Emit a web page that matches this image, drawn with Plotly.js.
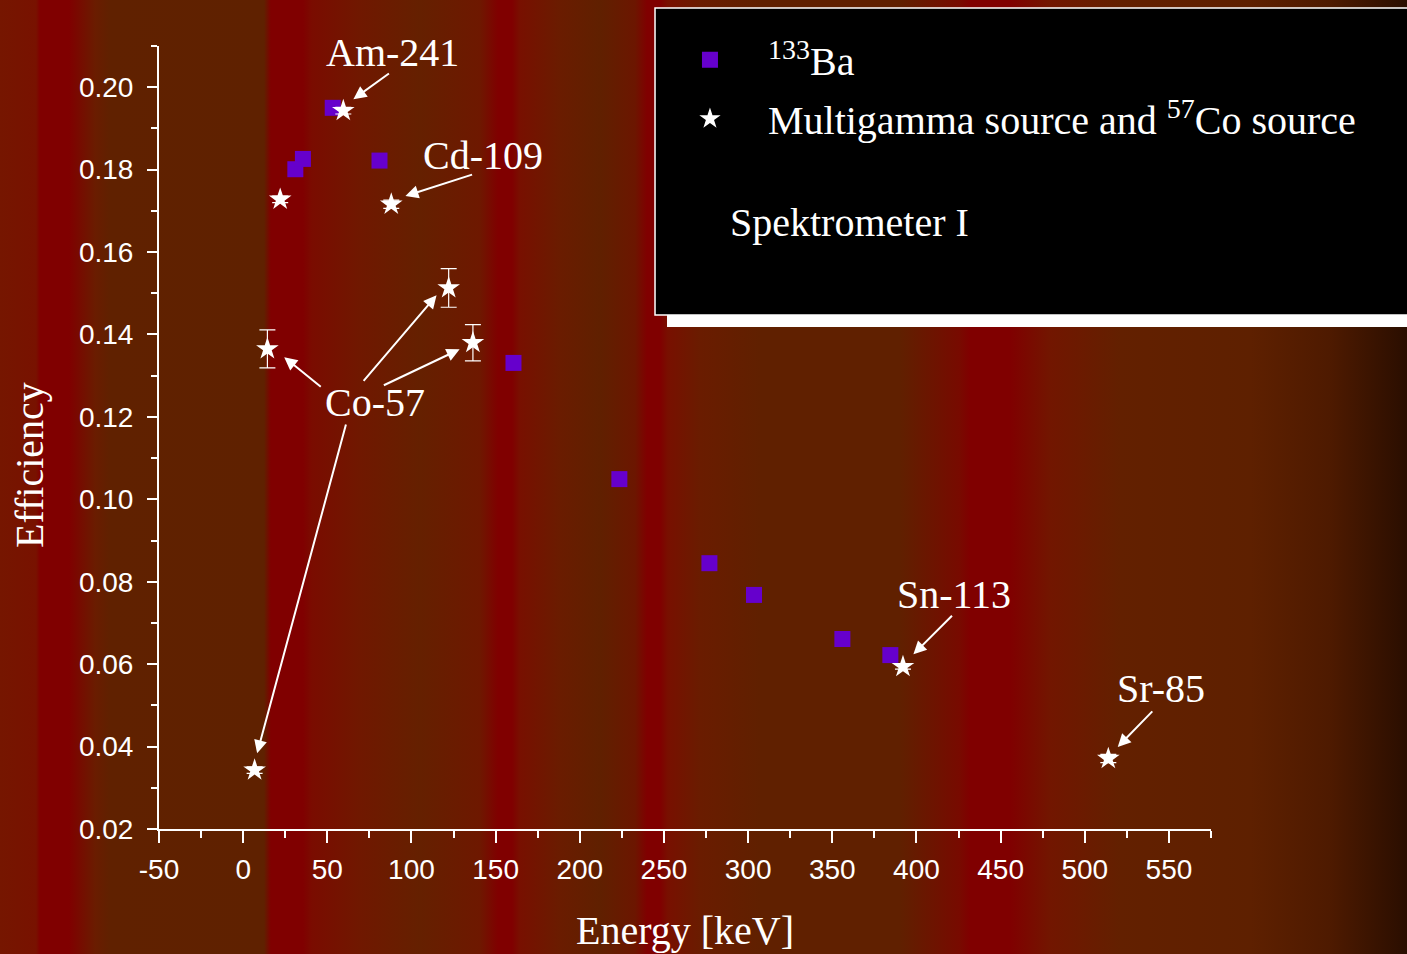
<!DOCTYPE html>
<html>
<head>
<meta charset="utf-8">
<script src="https://cdn.plot.ly/plotly-3.0.1.min.js"></script>
<style>
  html, body { margin: 0; padding: 0; width: 1407px; height: 954px; overflow: hidden; }
  body {
    background: linear-gradient(to right,
      #761600 0px, #781200 36px, #800000 40px, #800000 69px, #6a1c00 95px, #602100 110px,
      #5f2100 264px, #800000 271px, #800000 303px, #7a0c00 312px, #701800 360px, #652000 420px,
      #6e1800 480px, #800000 498px, #800000 512px, #781000 520px, #6a1c00 560px, #602000 600px,
      #6c1600 635px, #800000 647px, #800000 660px, #781000 668px, #6a1c00 700px, #602000 760px,
      #602000 900px, #780a00 960px, #800000 970px, #800000 1010px, #721600 1050px, #632000 1120px,
      #5e2000 1250px, #4e1a00 1330px, #2a0e00 1407px);
  }
  #chart { width: 1407px; height: 954px; }
</style>
</head>
<body>
<div id="chart"></div>
<script>
// 133Ba points
const baEnergy = [31.0, 35.5, 53.2, 81.0, 160.6, 223.5, 277.0, 303.5, 356.0, 384.5];
const baEff    = [0.1801, 0.1826, 0.1950, 0.1822, 0.1331, 0.1049, 0.0845, 0.0768, 0.0661, 0.0622];

// Multigamma source and 57Co source points
const mgEnergy = [6.8, 14.4, 22.0, 59.5, 88.0, 122.1, 136.5, 392.0, 514.0];
const mgEff    = [0.0343, 0.1365, 0.1728, 0.1943, 0.1716, 0.1513, 0.1380, 0.0594, 0.0371];
const mgErr    = [0.0008, 0.0046, 0.0008, 0.0008, 0.0010, 0.0047, 0.0044, 0.0006, 0.0010];

// Labels: [text, label x, label y]
const labels = [
  ["Am-241", 88.7, 0.2085],
  ["Cd-109", 142.3, 0.1835],
  ["Co-57", 78.6, 0.1236],
  ["Sn-113", 422.6, 0.0768],
  ["Sr-85", 545.2, 0.0540]
];
// arrows: [head x, head y, tail x, tail y]
const arrows = [
  [65.5, 0.1971, 87.5, 0.2036],
  [96.4, 0.1736, 136.9, 0.1789],
  [24.4, 0.1345, 47.0, 0.1270],
  [114.9, 0.1495, 70.8, 0.1284],
  [128.6, 0.1364, 82.7, 0.1275],
  [8.3, 0.0384, 61.3, 0.1185],
  [398.2, 0.0624, 422.0, 0.0721],
  [519.6, 0.0399, 541.0, 0.0489]
];

const xTicks = [-50, 0, 50, 100, 150, 200, 250, 300, 350, 400, 450, 500, 550];
const yTicks = [0.02, 0.04, 0.06, 0.08, 0.10, 0.12, 0.14, 0.16, 0.18, 0.20];

const serif = "'Liberation Serif', 'Times New Roman', serif";
const sans = "'Liberation Sans', Arial, sans-serif";

const traces = [
  {
    x: baEnergy, y: baEff, type: 'scatter', mode: 'markers',
    name: '<sup>133</sup>Ba', legendgroup: 'ba',
    marker: { symbol: 'square', size: 16, color: '#6600cc' }
  },
  {
    x: mgEnergy, y: mgEff, type: 'scatter', mode: 'markers',
    name: 'Multigamma source and <sup>57</sup>Co source', legendgroup: 'mg',
    marker: { symbol: 'star', size: 17, color: '#ffffff' },
    error_y: { type: 'data', array: mgErr, visible: true, color: '#ffffff', thickness: 1.2, width: 8 }
  }
];

const annotations = [];
labels.forEach(l => annotations.push({
  x: l[1], y: l[2], xref: 'x', yref: 'y', text: l[0], showarrow: false,
  font: { family: serif, size: 40, color: '#ffffff' }
}));
arrows.forEach(a => annotations.push({
  x: a[0], y: a[1], ax: a[2], ay: a[3], xref: 'x', yref: 'y', axref: 'x', ayref: 'y',
  text: '', showarrow: true, arrowhead: 2, arrowsize: 1.3, arrowwidth: 2, arrowcolor: '#ffffff',
  standoff: 0, startstandoff: 0
}));
annotations.push({
  xref: 'paper', yref: 'paper', x: 0.5405, y: 0.7743, xanchor: 'left', yanchor: 'middle',
  text: 'Spektrometer I', showarrow: false,
  font: { family: serif, size: 40, color: '#ffffff' }
});
annotations.push({
  xref: 'paper', yref: 'paper', x: -0.1226, y: 0.4649, xanchor: 'center', yanchor: 'middle',
  text: 'Efficiency', textangle: -90, showarrow: false,
  font: { family: serif, size: 40, color: '#ffffff' }
});
annotations.push({
  xref: 'paper', yref: 'paper', x: 0.5, y: -0.1290, xanchor: 'center', yanchor: 'middle',
  text: 'Energy [keV]', showarrow: false,
  font: { family: serif, size: 40, color: '#ffffff' }
});

const layout = {
  width: 1407, height: 954,
  margin: { l: 159, r: 196, t: 46, b: 125 },
  paper_bgcolor: 'rgba(0,0,0,0)',
  plot_bgcolor: 'rgba(0,0,0,0)',
  showlegend: true,
  legend: {
    x: 0.4686, y: 1.024, xanchor: 'left', yanchor: 'top',
    bgcolor: 'rgba(0,0,0,0)', borderwidth: 0,
    font: { family: serif, size: 40, color: '#ffffff' },
    itemwidth: 106, traceorder: 'grouped', tracegroupgap: 4
  },
  xaxis: {
    range: [-50, 575], showgrid: false, zeroline: false,
    showline: true, linecolor: '#ffffff', linewidth: 2,
    ticks: 'outside', ticklen: 12, tickwidth: 2, tickcolor: '#ffffff',
    tickvals: xTicks, ticktext: xTicks.map(String),
    tickfont: { family: sans, size: 28, color: '#ffffff' },
    ticklabelstandoff: 2,
    minor: { dtick: 25, tick0: 0, ticks: 'outside', ticklen: 7, tickwidth: 2, tickcolor: '#ffffff', showgrid: false }
  },
  yaxis: {
    range: [0.02, 0.21], showgrid: false, zeroline: false,
    showline: true, linecolor: '#ffffff', linewidth: 2,
    ticks: 'outside', ticklen: 10, tickwidth: 2, tickcolor: '#ffffff',
    tickvals: yTicks, ticktext: yTicks.map(v => v.toFixed(2)),
    tickfont: { family: sans, size: 28, color: '#ffffff' },
    ticklabelstandoff: 8,
    minor: { dtick: 0.01, tick0: 0, ticks: 'outside', ticklen: 6, tickwidth: 2, tickcolor: '#ffffff', showgrid: false }
  },
  shapes: [
    { type: 'rect', xref: 'paper', yref: 'paper', x0: 0.4829, x1: 1.2, y0: 0.6411, y1: 1.033,
      fillcolor: '#ffffff', line: { width: 0 }, layer: 'above' },
    { type: 'rect', xref: 'paper', yref: 'paper', x0: 0.4715, x1: 1.2, y0: 0.6564, y1: 1.0485,
      fillcolor: '#000000', line: { color: '#ffffff', width: 1.5 }, layer: 'above' }
  ],
  annotations: annotations
};

Plotly.newPlot('chart', traces, layout, { displayModeBar: false, staticPlot: true });
</script>
</body>
</html>
